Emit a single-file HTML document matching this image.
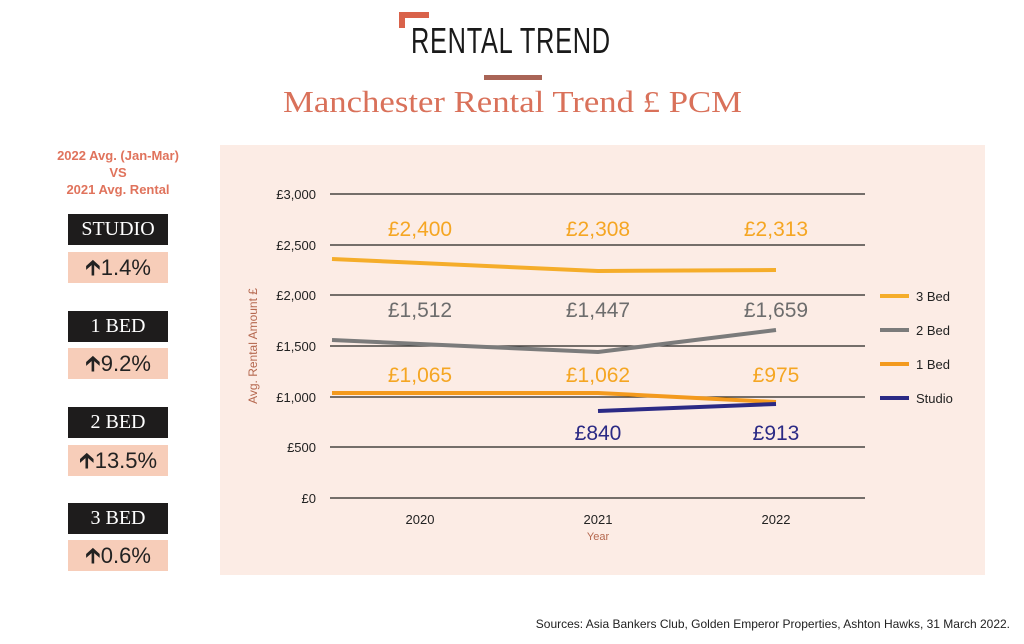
<!DOCTYPE html>
<html><head><style>
body{margin:0;width:1024px;height:644px;background:#fff;position:relative;font-family:"Liberation Sans",sans-serif;overflow:hidden}
.a{position:absolute}
.blk{position:absolute;left:68px;width:100px;height:31px;background:#1e1c1c;color:#fff;font-family:"Liberation Serif",serif;font-size:20px;text-align:center;line-height:31px}
.pk{position:absolute;left:68px;width:100px;height:31px;background:#f7cdb9;color:#222;font-size:22px;text-align:center;line-height:31px}
</style></head><body>
<div class="a" style="left:399px;top:12px;width:30px;height:6px;background:#d9624a"></div>
<div class="a" style="left:399px;top:12px;width:6px;height:16px;background:#d9624a"></div>
<div class="a" style="left:411px;top:20px;font-size:36px;color:#1a1a1a;transform:scaleX(0.705);transform-origin:left;letter-spacing:1px">RENTAL TREND</div>
<div class="a" style="left:484px;top:75px;width:58px;height:5px;background:#a96456"></div>
<div class="a" style="left:283px;top:84px;font-family:'Liberation Serif',serif;font-size:31px;color:#d9715a;transform:scaleX(1.12);transform-origin:left;white-space:nowrap">Manchester Rental Trend £ PCM</div>
<div class="a" style="left:30px;top:147px;width:176px;text-align:center;color:#e0735c;font-weight:bold;font-size:13px;line-height:17px">2022 Avg. (Jan-Mar)<br>VS<br>2021 Avg. Rental</div>
<div class="blk" style="top:214px">STUDIO</div><div class="pk" style="top:252px">&#129137;1.4%</div>
<div class="blk" style="top:311px">1 BED</div><div class="pk" style="top:348px">&#129137;9.2%</div>
<div class="blk" style="top:407px">2 BED</div><div class="pk" style="top:445px">&#129137;13.5%</div>
<div class="blk" style="top:503px">3 BED</div><div class="pk" style="top:540px">&#129137;0.6%</div>
<div class="a" style="left:220px;top:145px;width:765px;height:430px;background:#fcece5"></div>
<svg class="a" style="left:0;top:0" width="1024" height="644" font-family="Liberation Sans,sans-serif">
<g stroke="#222" stroke-width="1.3">
<line x1="330" x2="865" y1="194" y2="194"/><line x1="330" x2="865" y1="245" y2="245"/><line x1="330" x2="865" y1="295" y2="295"/><line x1="330" x2="865" y1="346" y2="346"/><line x1="330" x2="865" y1="397" y2="397"/><line x1="330" x2="865" y1="447" y2="447"/><line x1="330" x2="865" y1="498" y2="498"/></g>
<g font-size="13" fill="#222" text-anchor="end">
<text x="316" y="199">£3,000</text><text x="316" y="250">£2,500</text><text x="316" y="300">£2,000</text><text x="316" y="351">£1,500</text><text x="316" y="402">£1,000</text><text x="316" y="452">£500</text><text x="316" y="503">£0</text></g>
<g font-size="13" fill="#222" text-anchor="middle"><text x="420" y="524">2020</text><text x="598" y="524">2021</text><text x="776" y="524">2022</text></g>
<text x="598" y="540" font-size="11" fill="#b5684f" text-anchor="middle">Year</text>
<text transform="translate(257,346) rotate(-90)" font-size="12" fill="#b5684f" text-anchor="middle">Avg. Rental Amount £</text>
<g fill="none" stroke-width="4">
<polyline stroke="#f5ad2a" points="332,259 598,271 776,270"/>
<polyline stroke="#7b7b7b" points="332,340 598,352 776,330"/>
<polyline stroke="#f39a1e" points="332,393 598,393 776,402"/>
<polyline stroke="#2b2a85" points="598,411 776,404"/></g>
<g font-size="21" text-anchor="middle">
<g fill="#f5a623"><text x="420" y="236">£2,400</text><text x="598" y="236">£2,308</text><text x="776" y="236">£2,313</text></g>
<g fill="#6d6d6d"><text x="420" y="317">£1,512</text><text x="598" y="317">£1,447</text><text x="776" y="317">£1,659</text></g>
<g fill="#f5a623"><text x="420" y="382">£1,065</text><text x="598" y="382">£1,062</text><text x="776" y="382">£975</text></g>
<g fill="#2b2a85"><text x="598" y="440">£840</text><text x="776" y="440">£913</text></g></g>
<g stroke-width="4"><line x1="880" x2="909" y1="296" y2="296" stroke="#f5ad2a"/><line x1="880" x2="909" y1="330" y2="330" stroke="#7b7b7b"/><line x1="880" x2="909" y1="364" y2="364" stroke="#f39a1e"/><line x1="880" x2="909" y1="398" y2="398" stroke="#2b2a85"/></g>
<g font-size="13" fill="#222"><text x="916" y="301">3 Bed</text><text x="916" y="335">2 Bed</text><text x="916" y="369">1 Bed</text><text x="916" y="403">Studio</text></g>
<text x="1010" y="628" font-size="12" fill="#222" text-anchor="end">Sources: Asia Bankers Club, Golden Emperor Properties, Ashton Hawks, 31 March 2022.</text>
</svg>
</body></html>
